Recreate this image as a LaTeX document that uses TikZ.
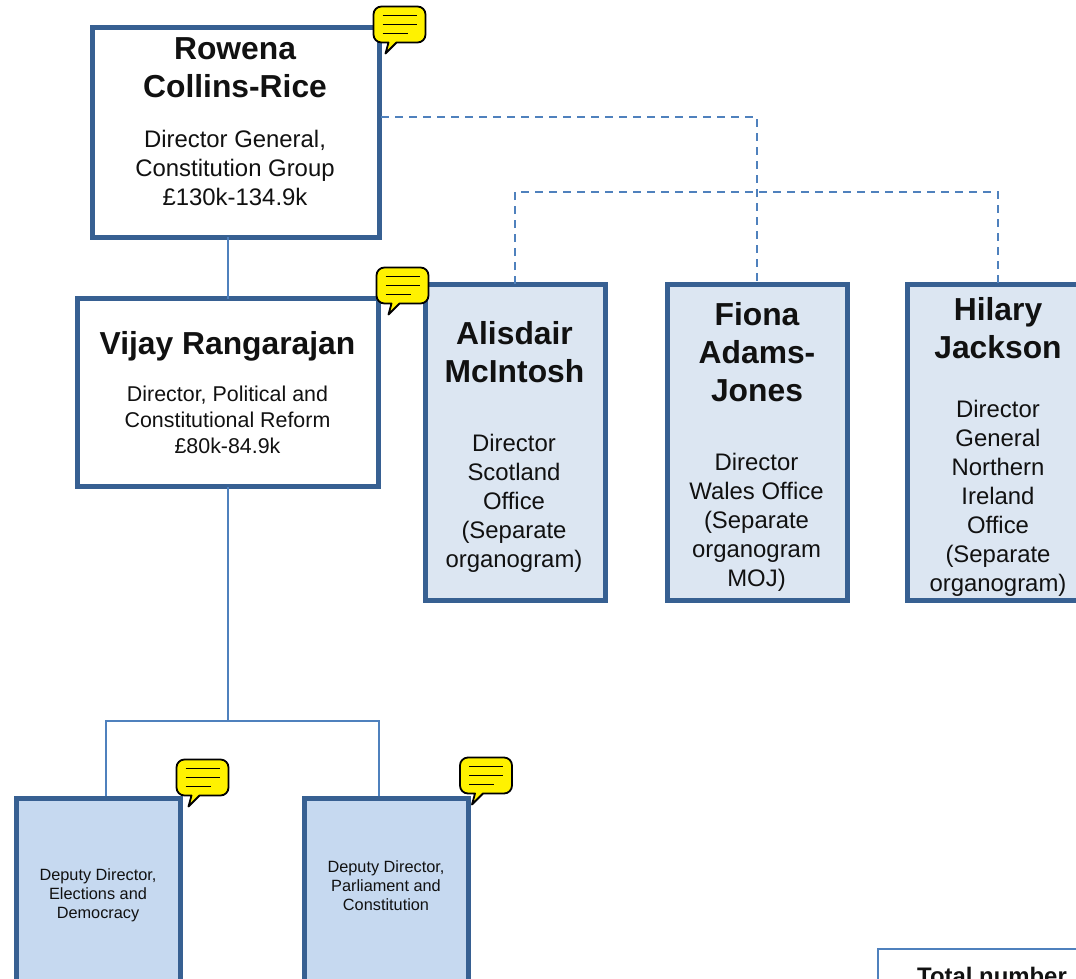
\documentclass[tikz,border=0pt]{standalone}
\usepackage{fontspec}
\setmainfont{Liberation Sans}
\definecolor{c1}{HTML}{376092}
\definecolor{c2}{HTML}{4F81BD}
\definecolor{c3}{HTML}{C6D9F0}
\definecolor{c4}{HTML}{DCE6F2}
\definecolor{c5}{HTML}{111111}
\tikzset{
	staffbox/.style = {draw = c1, line width = 5, fill = white, inner sep = 0, outer sep = 0},
	outerbox/.style = {staffbox, fill = c4},
	deputybox/.style = {staffbox, fill = c3},
	totalbox/.style = {draw = c2, line width = 2, fill = white, inner sep = 0, outer sep = 0},
	nametext/.style = {align = center, text = c5, font = \fontsize{31.8}{38}\selectfont\bfseries},
	roletext/.style = {align = center, text = c5, font = \fontsize{23.9}{29}\selectfont},
	vijaytext/.style = {align = center, text = c5, font = \fontsize{21.4}{26.2}\selectfont},
	deputytext/.style = {align = center, text = c5, font = \fontsize{16.3}{19}\selectfont},
	totaltext/.style = {align = center, text = c5, font = \fontsize{23.9}{29}\selectfont\bfseries},
	link/.style = {draw = c2, line width = 2},
	dashlink/.style = {link, dash pattern = on 8 off 6},
	bubble/.pic = {
		\draw [fill = yellow, line width = 1.8, line join = round]
			(8, 0) -- (44, 0) arc [start angle = 270, end angle = 360, radius = 8]
			-- (52, 28) arc [start angle = 0, end angle = 90, radius = 8]
			-- (23, 36) -- (12, 47) -- (15, 36) -- (8, 36) arc [start angle = 90, end angle = 180, radius = 8]
			-- (0, 8) arc [start angle = 180, end angle = 270, radius = 8] -- cycle;
		\draw [line width = 1.7] (9, 9) -- ++(34, 0);
		\draw [line width = 1.7] (9, 18) -- ++(34, 0);
		\draw [line width = 1.7] (9, 27) -- ++(25, 0);
	}
}

\begin{document}
\begin{tikzpicture}[x = 1pt, y = -1pt]
	\useasboundingbox (0, 0) rectangle (1076, 978);
	\clip (0, 0) rectangle (1076, 978);

	% boxes
	\node [staffbox, minimum width = 287, minimum height = 210] (rowena) at (235.5, 132) {};
	\node [staffbox, minimum width = 301, minimum height = 188] (vijay) at (227.5, 392.5) {};
	\node [outerbox, minimum width = 180, minimum height = 316] (alisdair) at (515, 442) {};
	\node [outerbox, minimum width = 180, minimum height = 316] (fiona) at (757, 442) {};
	\node [outerbox, minimum width = 182, minimum height = 316] (hilary) at (998, 442) {};
	\node [deputybox, minimum width = 164, minimum height = 190] (elections) at (98.5, 893.5) {};
	\node [deputybox, minimum width = 164, minimum height = 190] (parliament) at (386.5, 893.5) {};
	\node [totalbox, minimum width = 260, minimum height = 100, anchor = north west] (total) at (877.5, 948.5) {};

	% connectors
	\coordinate (rowenatap) at (381, 117);
	\coordinate (fionabend) at (757, 117);
	\coordinate (leftbend) at (515, 192);
	\coordinate (rightbend) at (998, 192);
	\coordinate (busmid) at (227.5, 721);
	\coordinate (busleft) at (106, 721);
	\coordinate (busright) at (379, 721);
	\coordinate (electionstop) at (106, 796);
	\coordinate (parliamenttop) at (379, 796);
	\draw [link] (rowena.south -| vijay.north) -- (vijay.north);
	\draw [link] (vijay.south) -- (busmid);
	\draw [link] (electionstop) -- (busleft) -- (busright) -- (parliamenttop);
	\draw [dashlink] (rowenatap) -- (fionabend) -- (fiona.north);
	\draw [dashlink] (alisdair.north) -- (leftbend) -- (rightbend) -- (hilary.north);

	% names and roles
	\node [nametext] (rowenaname) at (235, 68) {Rowena\\Collins-Rice};
	\node [roletext] (rowenarole) at (235, 168) {Director General,\\Constitution Group\\£130k-134.9k};
	\node [nametext] (vijayname) at (227.5, 346) {Vijay Rangarajan};
	\node [vijaytext] (vijayrole) at (227.5, 420) {Director, Political and\\Constitutional Reform\\£80k-84.9k};
	\node [nametext] (alisdairname) at (514.5, 352) {Alisdair\\McIntosh};
	\node [roletext] (alisdairrole) at (514, 503) {Director\\Scotland\\Office\\(Separate\\organogram)};
	\node [nametext] (fionaname) at (757, 352) {Fiona\\Adams-\\Jones};
	\node [roletext] (fionarole) at (756.5, 522) {Director\\Wales Office\\(Separate\\organogram\\MOJ)};
	\node [nametext] (hilaryname) at (998, 328.5) {Hilary\\Jackson};
	\node [roletext] (hilaryrole) at (998, 498) {Director\\General\\Northern\\Ireland\\Office\\(Separate\\organogram)};
	\node [deputytext] (electionsrole) at (98, 895) {Deputy Director,\\Elections and\\Democracy};
	\node [deputytext] (parliamentrole) at (386, 886) {Deputy Director,\\Parliament and\\Constitution};
	\node [totaltext] (totalname) at (992, 976) {Total number};

	% note bubbles
	\pic at (373.5, 6.5) {bubble};
	\pic at (376.5, 267.5) {bubble};
	\pic at (176.5, 759.5) {bubble};
	\pic at (460, 757.5) {bubble};
\end{tikzpicture}
\end{document}
